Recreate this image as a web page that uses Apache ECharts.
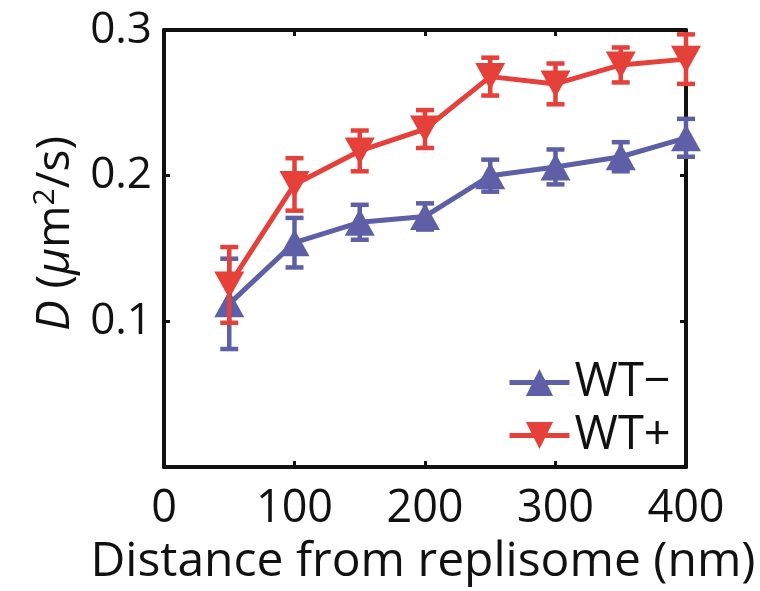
<!DOCTYPE html>
<html>
<head>
<meta charset="utf-8">
<script src="https://cdn.jsdelivr.net/npm/echarts@6/dist/echarts.min.js"></script>
<style>
  html, body { margin: 0; padding: 0; background: #ffffff; }
  #chart { width: 760px; height: 591px; }
</style>
</head>
<body>
<div id="chart"></div>
<script>
// Diffusion coefficient vs distance from the replisome
const distances = [50, 100, 150, 200, 250, 300, 350, 400];
const wtMinus = [0.112, 0.154, 0.168, 0.172, 0.200, 0.206, 0.213, 0.226];
const wtMinusErr = [0.031, 0.017, 0.012, 0.009, 0.011, 0.012, 0.010, 0.013];
const wtPlus = [0.125, 0.194, 0.217, 0.232, 0.268, 0.263, 0.276, 0.280];
const wtPlusErr = [0.026, 0.018, 0.014, 0.013, 0.013, 0.014, 0.012, 0.017];
const xTicks = [0, 100, 200, 300, 400];
const yTicks = [0.1, 0.2, 0.3];

const BLUE = '#5E5FA6';
const RED = '#E5403A';
const INK = '#111111';
const FONT = 'Open Sans';
const DOWN_TRI = 'path://M0,0 L10,0 L5,9 Z';

function errRows(y, e) {
  return distances.map((x, i) => [x, y[i] - e[i], y[i] + e[i]]);
}

function errorBars(color) {
  return function (params, api) {
    const x = api.value(0);
    const lo = api.coord([x, api.value(1)]);
    const hi = api.coord([x, api.value(2)]);
    const cw = 9;
    const st = { stroke: color, lineWidth: 4.5 };
    return {
      type: 'group',
      children: [
        { type: 'line', shape: { x1: hi[0], y1: hi[1], x2: lo[0], y2: lo[1] }, style: st },
        { type: 'line', shape: { x1: hi[0] - cw, y1: hi[1], x2: hi[0] + cw, y2: hi[1] }, style: st },
        { type: 'line', shape: { x1: lo[0] - cw, y1: lo[1], x2: lo[0] + cw, y2: lo[1] }, style: st }
      ]
    };
  };
}

const chart = echarts.init(document.getElementById('chart'), null, { renderer: 'canvas' });

const frame = { show: true, onZero: false, lineStyle: { color: INK, width: 4 } };
const ticksIn = { show: true, inside: true, length: 6, lineStyle: { color: INK, width: 3 } };

chart.setOption({
  backgroundColor: '#ffffff',
  animation: false,
  grid: { left: 164, right: 74, top: 30, bottom: 124, containLabel: false, outerBoundsMode: 'none' },
  legend: {
    orient: 'vertical',
    left: 507,
    top: 359,
    padding: 0,
    itemWidth: 60,
    itemHeight: 34,
    itemGap: 6,
    lineStyle: { width: 5 },
    data: ['WT\u2212', 'WT+'],
    textStyle: { fontFamily: FONT, fontSize: 47, color: INK }
  },
  xAxis: [
    {
      type: 'value', min: xTicks[0], max: xTicks[xTicks.length - 1], interval: 100,
      position: 'bottom',
      axisLine: frame, axisTick: ticksIn, splitLine: { show: false },
      axisLabel: { fontFamily: FONT, fontSize: 45, color: INK, margin: 20 },
      name: 'Distance from replisome (nm)', nameLocation: 'middle', nameGap: 71,
      nameTextStyle: { fontFamily: FONT, fontSize: 48, color: INK, padding: [0, 4, 0, 0] }
    },
    {
      type: 'value', min: xTicks[0], max: xTicks[xTicks.length - 1], interval: 100,
      position: 'top',
      axisLine: frame, axisTick: ticksIn, splitLine: { show: false },
      axisLabel: { show: false }
    }
  ],
  yAxis: [
    {
      type: 'value', min: 0, max: yTicks[yTicks.length - 1], interval: 0.1,
      position: 'left',
      axisLine: frame, axisTick: ticksIn, splitLine: { show: false },
      axisLabel: {
        fontFamily: FONT, fontSize: 44, color: INK, margin: 12,
        formatter: v => (yTicks.some(t => Math.abs(t - v) < 1e-9) ? v.toFixed(1) : '')
      },
      name: '{i|D} ({i|\u03BC}m{s|2}/s)', nameLocation: 'middle', nameGap: 79, nameRotate: 90,
      nameTextStyle: {
        fontFamily: FONT, fontSize: 46, color: INK, padding: [0, 0, 0, 30],
        rich: {
          i: { fontFamily: FONT, fontSize: 46, fontStyle: 'italic', color: INK },
          s: { fontFamily: FONT, fontSize: 30, color: INK, verticalAlign: 'top', padding: [0, 0, 22, 0] }
        }
      }
    },
    {
      type: 'value', min: 0, max: yTicks[yTicks.length - 1], interval: 0.1,
      position: 'right',
      axisLine: frame, axisTick: ticksIn, splitLine: { show: false },
      axisLabel: { show: false }
    }
  ],
  series: [
    {
      name: 'WT\u2212 error', type: 'custom', renderItem: errorBars(BLUE),
      data: errRows(wtMinus, wtMinusErr), clip: false, z: 2
    },
    {
      name: 'WT\u2212', type: 'line', data: distances.map((x, i) => [x, wtMinus[i]]),
      symbol: 'triangle', symbolSize: [30, 27], clip: false, z: 3,
      itemStyle: { color: BLUE }, lineStyle: { color: BLUE, width: 5 }
    },
    {
      name: 'WT+ error', type: 'custom', renderItem: errorBars(RED),
      data: errRows(wtPlus, wtPlusErr), clip: false, z: 4
    },
    {
      name: 'WT+', type: 'line', data: distances.map((x, i) => [x, wtPlus[i]]),
      symbol: DOWN_TRI, symbolSize: [30, 27], clip: false, z: 5,
      itemStyle: { color: RED }, lineStyle: { color: RED, width: 5 }
    }
  ]
});
</script>
</body>
</html>
